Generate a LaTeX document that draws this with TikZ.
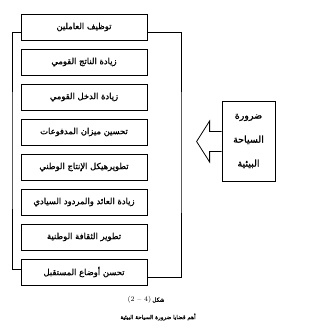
\documentclass[tikz,border=0pt]{standalone}
\usepackage{fontspec}
\usepackage{tikz}
\TeXXeTstate=1
\newfontfamily\arabicfont[Script=Arabic,FakeBold=1.2]{DejaVu Sans}
\newcommand{\ar}[1]{\arabicfont\beginR #1\endR}

\begin{document}
\begin{tikzpicture}[x=1pt, y=-1pt,
  qadiya/.style={draw, line width=0.8pt, minimum width=126pt, minimum height=26pt, inner sep=0pt,
    font=\arabicfont\fontsize{8.4}{9}\selectfont},
  darura/.style={draw, line width=0.8pt, minimum width=53pt, minimum height=80pt, align=center,
    font=\arabicfont\fontsize{9.5}{24}\selectfont},
  rabt/.style={line width=0.8pt},
  sahm/.style={draw, line width=0.8pt, line join=miter},
  taliq/.style={font=\arabicfont\fontsize{5.6}{8}\selectfont}]
\useasboundingbox (0,0) rectangle (315,336);
\node[qadiya] (q1) at (84,27) {\ar{توظيف العاملين}};
\node[qadiya] (q2) at (84,62) {\ar{زيادة الناتج القومي}};
\node[qadiya] (q3) at (84,97) {\ar{زيادة الدخل القومي}};
\node[qadiya] (q4) at (84,132) {\ar{تحسين ميزان المدفوعات}};
\node[qadiya] (q5) at (84,167) {\ar{تطويرهيكل الإنتاج الوطني}};
\node[qadiya] (q6) at (84,202) {\ar{زيادة العائد والمردود السيادي}};
\node[qadiya] (q7) at (84,237) {\ar{تطوير الثقافة الوطنية}};
\node[qadiya] (q8) at (84,272) {\ar{تحسن أوضاع المستقبل}};
\node[darura] (dr) at (248.5,141) {\beginR ضرورة\endR\\ \beginR السياحة\endR\\ \beginR البيئية\endR};
% the two brackets
\draw[rabt] ([yshift=-5pt]q1.west) -| (12,150) |- ([yshift=3pt]q8.west);
\draw[rabt] ([yshift=-5pt]q1.east) -| (181,150) |- ([yshift=-5pt]q8.east);
% block arrow to the left
\draw[sahm] (dr.west) ++(0,-9.5) -- ++(-12,0) -- ++(0,-10.5) -- ++(-13,20.5)
  -- ++(13,20.5) -- ++(0,-10.5) -- ++(12,0);
\node[font=\fontsize{7}{8}\selectfont] (shakl) at (146,300) {(2 -- 4)\,{\arabicfont\fontsize{5.6}{8}\selectfont\beginR شكل\endR}};
\node[taliq] (unwan) at (158,317) {\ar{أهم قضايا ضرورة السياحة البيئية}};
\end{tikzpicture}
\end{document}
